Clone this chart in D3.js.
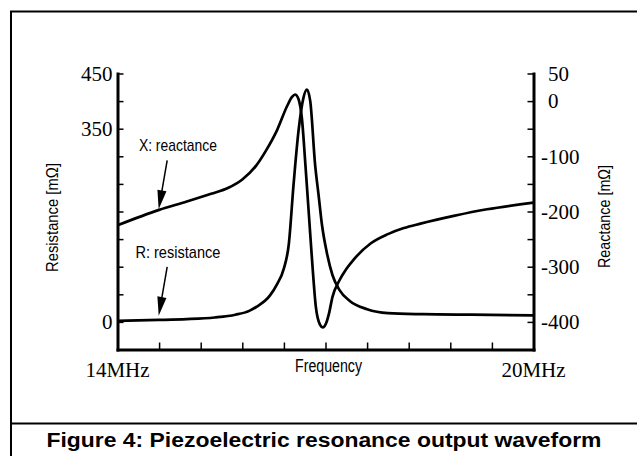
<!DOCTYPE html>
<html><head><meta charset="utf-8">
<script src="https://cdn.jsdelivr.net/npm/d3@7"></script>
<style>body{margin:0;background:#fff}svg{display:block}</style>
</head><body><svg id="c" width="637" height="456"></svg>
<script>
// ---- data ----
const resFreq = [14.0, 14.6, 15.0, 15.4, 15.7, 15.9, 16.0, 16.2, 16.3, 16.4, 16.47, 16.54, 16.61, 16.68, 16.732, 16.78, 16.85, 16.9, 16.95, 17.02, 17.1, 17.2, 17.35, 17.6, 17.9, 18.4, 19.1, 20.0];
const resistance = [2, 3.5, 5, 8, 13, 20, 27, 48, 68, 97, 140, 250, 345, 405, 421, 400, 285, 230, 175, 125, 85, 58, 38, 23, 16, 14, 13, 12];

const reacFreq = [14.0, 14.6, 15.0, 15.35, 15.6, 15.8, 16.0, 16.15, 16.3, 16.45, 16.52, 16.56, 16.61, 16.66, 16.71, 16.76, 16.81, 16.86, 16.92, 16.96, 17.01, 17.05, 17.1, 17.2, 17.3, 17.4, 17.65, 17.9, 18.13, 18.37, 18.85, 19.33, 20.0];
const reactance = [-225, -197, -182, -168, -157, -142, -117, -88, -53, -8, 8, 12, 4, -32, -115, -205, -295, -372, -405, -410, -402, -385, -355, -325, -304, -288, -258, -241, -230, -222, -208, -196, -184];

const resTicks = [0, 50, 100, 150, 200, 250, 300, 350, 400, 450];
const resLabeled = [0, 350, 450];
const reacTicks = [-400, -350, -300, -250, -200, -150, -100, -50, 0, 50];
const reacLabeled = [-400, -300, -200, -100, 0, 50];
const freqTicks = [14.6, 15.2, 15.8, 16.4, 17.0, 17.6, 18.2, 18.8, 19.4];
const freqLabelValues = [14, 20];
const freqLabels = ["14MHz", "20MHz"];

const annotLabels = ["X: reactance", "R: resistance"];
const annotFreq = [14.594, 14.594];
const annotValue = [-196, 11];
const annotAxis = ["X", "R"];

const titleX = "Frequency";
const titleLeft = "Resistance [m\u03A9]";
const titleRight = "Reactance [m\u03A9]";
const caption = "Figure 4: Piezoelectric resonance output waveform";

// ---- drawing ----
const svg = d3.select("#c");
svg.append("rect").attr("width", 637).attr("height", 456).attr("fill", "#fff");

const L = 117.5, R = 533.5, T = 73.5, B = 349.5;
const x = d3.scaleLinear().domain([14, 20]).range([L, R]);
const yR = d3.scaleLinear().domain([-50, 450]).range([B, T]);
const yX = d3.scaleLinear().domain([-450, 50]).range([B, T]);

// frame
svg.append("path")
  .attr("d", "M11,470V11.5H660M11,423.5H660")
  .attr("fill", "none").attr("stroke", "#000").attr("stroke-width", 2);

const serif = "'Liberation Serif','Times New Roman',serif";
const sans = "'Liberation Sans',Arial,Helvetica,sans-serif";

function styleAxis(g) {
  g.attr("font-family", serif).attr("font-size", 21);
  g.select(".domain").attr("stroke", "#000").attr("stroke-width", 3).attr("stroke-linecap", "square");
  g.selectAll(".tick line").attr("stroke", "#000").attr("stroke-width", 1.5);
  g.selectAll(".tick text").attr("fill", "#000");
}

// left axis (resistance)
const gL = svg.append("g").attr("transform", `translate(${L},0)`)
  .call(d3.axisLeft(yR).tickValues(resTicks).tickSizeInner(-6).tickSizeOuter(0).tickPadding(5)
    .tickFormat(d => resLabeled.includes(d) ? String(d) : ""));
styleAxis(gL);

// right axis (reactance)
const gR = svg.append("g").attr("transform", `translate(${R},0)`)
  .call(d3.axisRight(yX).tickValues(reacTicks).tickSizeInner(-6).tickSizeOuter(0).tickPadding(14.5)
    .tickFormat(d => reacLabeled.includes(d) ? String(d) : ""));
styleAxis(gR);
const tmp = svg.append("text").attr("font-family", serif).attr("font-size", 21).text("-");
const hyW = tmp.node().getComputedTextLength();
tmp.remove();
gR.selectAll(".tick text").attr("x", d => d < 0 ? 14.5 - hyW : 14.5);

// bottom axis
const gB = svg.append("g").attr("transform", `translate(0,${B})`)
  .call(d3.axisBottom(x).tickValues(freqTicks).tickSizeInner(-7).tickSizeOuter(0).tickFormat(""));
styleAxis(gB);

// frequency end labels
svg.selectAll("text.flab").data(freqLabelValues).join("text").attr("class", "flab")
  .attr("x", d => x(d)).attr("y", B + 27)
  .attr("text-anchor", "middle").attr("font-family", serif).attr("font-size", 21).attr("fill", "#000")
  .text((d, i) => freqLabels[i]);

// axis titles
svg.append("text").attr("x", (L + R) / 2 + 3).attr("y", B + 22.5)
  .attr("text-anchor", "middle").attr("font-family", sans).attr("font-size", 17.5)
  .attr("textLength", 67).attr("lengthAdjust", "spacingAndGlyphs").text(titleX);

svg.append("text").attr("transform", `translate(58,${(T + B) / 2 + 6}) rotate(-90)`)
  .attr("text-anchor", "middle").attr("font-family", sans).attr("font-size", 16)
  .attr("textLength", 109).attr("lengthAdjust", "spacingAndGlyphs").text(titleLeft);

svg.append("text").attr("transform", `translate(610,${(T + B) / 2 + 5}) rotate(-90)`)
  .attr("text-anchor", "middle").attr("font-family", sans).attr("font-size", 16)
  .attr("textLength", 103).attr("lengthAdjust", "spacingAndGlyphs").text(titleRight);

// curves
const line = d3.line().curve(d3.curveMonotoneX);
svg.append("path")
  .attr("d", line(resFreq.map((f, i) => [x(f), yR(resistance[i])])))
  .attr("fill", "none").attr("stroke", "#000").attr("stroke-width", 2.7).attr("stroke-linejoin", "round");
svg.append("path")
  .attr("d", line(reacFreq.map((f, i) => [x(f), yX(reactance[i])])))
  .attr("fill", "none").attr("stroke", "#000").attr("stroke-width", 2.7).attr("stroke-linejoin", "round");

// annotations with arrows
const annWidths = [78, 85];
annotLabels.forEach((lab, i) => {
  const ys = annotAxis[i] === "X" ? yX : yR;
  const tip = [x(annotFreq[i]), ys(annotValue[i])];
  const tail = [tip[0] + 8.5, tip[1] - 49];
  const dx = tip[0] - tail[0], dy = tip[1] - tail[1];
  const len = Math.hypot(dx, dy), ux = dx / len, uy = dy / len;
  const hl = 19, hw = 4.6;
  const base = [tip[0] - ux * hl, tip[1] - uy * hl];
  svg.append("line").attr("x1", tail[0]).attr("y1", tail[1]).attr("x2", base[0] + ux * 2).attr("y2", base[1] + uy * 2)
    .attr("stroke", "#000").attr("stroke-width", 1.5);
  svg.append("path")
    .attr("d", `M${tip[0]},${tip[1]}L${base[0] - uy * hw},${base[1] + ux * hw}L${base[0] + uy * hw},${base[1] - ux * hw}Z`)
    .attr("fill", "#000");
  svg.append("text").attr("x", tail[0] + 10.7).attr("y", tail[1] - 9)
    .attr("text-anchor", "middle").attr("font-family", sans).attr("font-size", 17)
    .attr("textLength", annWidths[i]).attr("lengthAdjust", "spacingAndGlyphs").attr("fill", "#000")
    .text(lab);
});

// caption
svg.append("text").attr("x", 324).attr("y", 447)
  .attr("text-anchor", "middle").attr("font-family", sans).attr("font-weight", "bold").attr("font-size", 19.5)
  .attr("textLength", 555).attr("lengthAdjust", "spacingAndGlyphs").attr("fill", "#000")
  .text(caption);
</script></body></html>
